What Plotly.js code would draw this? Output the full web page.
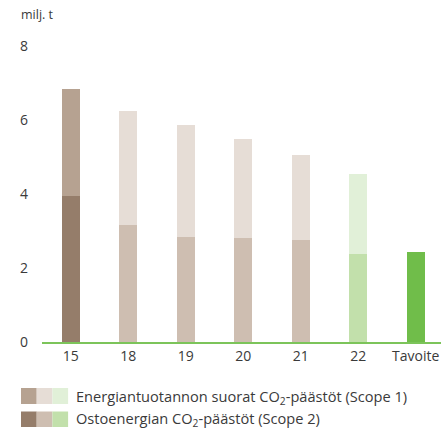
<!DOCTYPE html>
<html><head><meta charset="utf-8">
<script src="https://cdn.plot.ly/plotly-3.0.1.min.js"></script>
<style>html,body{margin:0;padding:0;background:#fff}#c{width:441px;height:431px}</style>
</head><body><div id="c"></div>
<script>
const categories = ['15','18','19','20','21','22','Tavoite'];
const scope2 = [3.95, 3.16, 2.84, 2.81, 2.76, 2.38, 2.43];
const scope1 = [2.89, 3.08, 3.02, 2.68, 2.29, 2.16, null];
const scope2Colors = ['#957d6a','#cebeb1','#cebeb1','#cebeb1','#cebeb1','#c2e0ab','#70bd4a'];
const scope1Colors = ['#b6a291','#e6ddd6','#e6ddd6','#e6ddd6','#e6ddd6','#e1f0d8','#e1f0d8'];
const legendLabels = ['Energiantuotannon suorat CO<sub>2</sub>-päästöt (Scope 1)','Ostoenergian CO<sub>2</sub>-päästöt (Scope 2)'];
const legendSwatches = [['#b6a291','#e6ddd6','#e1f0d8'],['#957d6a','#cebeb1','#c2e0ab']];
const yTicks = [0,2,4,6,8];

const W=441,H=431,L=42,R=0,T=39,B=89;
const pw=W-L-R, ph=H-T-B;
const px=x=>(x-L)/pw, py=y=>(H-B-y)/ph;
const font='"Open Sans", sans-serif';

const traces=[
 {type:'bar',x:categories,y:scope2,marker:{color:scope2Colors},width:0.313,hoverinfo:'none',showlegend:false},
 {type:'bar',x:categories,y:scope1,marker:{color:scope1Colors},width:0.313,hoverinfo:'none',showlegend:false}
];
const shapes=[],annotations=[];
const rows=[[388,404,396.5],[411.5,427,419]];
legendSwatches.forEach((sw,i)=>{
  sw.forEach((c,j)=>{
    const x0=21+j*15.7;
    shapes.push({type:'rect',xref:'paper',yref:'paper',x0:px(x0),x1:px(x0+15.7),y0:py(rows[i][1]),y1:py(rows[i][0]),fillcolor:c,line:{width:0}});
  });
  annotations.push({xref:'paper',yref:'paper',x:px(74),y:py(rows[i][2]),xanchor:'left',yanchor:'middle',showarrow:false,text:legendLabels[i],font:{family:font,size:14.6,color:'#3a3a3a'}});
});
annotations.push({xref:'paper',yref:'paper',x:px(19),y:py(15),xanchor:'left',yanchor:'middle',showarrow:false,text:'milj. t',font:{family:font,size:12.5,color:'#3a3a3a'}});

Plotly.newPlot('c',traces,{
  width:W,height:H,margin:{l:L,r:R,t:T,b:B},
  paper_bgcolor:'#fff',plot_bgcolor:'#fff',
  barmode:'stack',
  font:{family:font,size:14,color:'#3a3a3a'},
  xaxis:{type:'category',range:[-0.5,6.44],showline:true,linecolor:'#7cc45a',linewidth:2,ticks:'',tickfont:{size:14,color:'#3a3a3a'},showgrid:false,zeroline:false,fixedrange:true},
  yaxis:{range:[0,8.19],tickvals:yTicks,showgrid:false,zeroline:false,showline:false,ticks:'',ticklabelstandoff:13,tickfont:{size:14,color:'#3a3a3a'},fixedrange:true},
  shapes:shapes,annotations:annotations
},{displayModeBar:false,staticPlot:true});
</script></body></html>
